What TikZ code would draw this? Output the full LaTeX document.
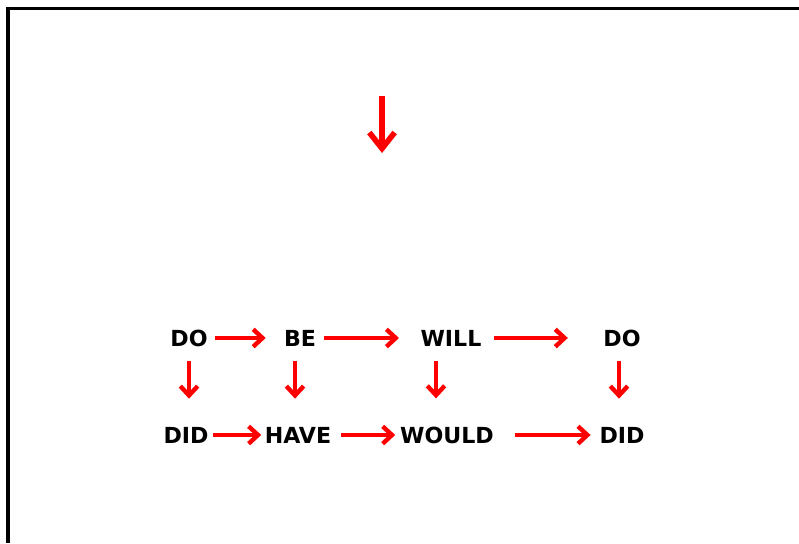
\documentclass[tikz,border=0pt]{standalone}
\usepackage{fontspec}
\setmainfont{DejaVu Sans}
\usepackage{xcolor}
\usepackage{tikz}
\usetikzlibrary{positioning,arrows.meta}

\begin{document}
\begin{tikzpicture}[x=0.75pt,y=-0.75pt,
					word/.style = {inner sep=0pt, font=\fontsize{16.6}{19}\selectfont\bfseries},
					arr/.style = {-{Straight Barb[length=7pt, width=13pt]}, line width=3.3pt, draw=red}]
					\useasboundingbox (0,0) rectangle (799,543);
					\draw[line width=2.6pt] (8,543) -- (8,8.5) -- (799,8.5);
					
					\coordinate (t0) at (382,96);
					\coordinate (t1) at (382,153);
					\draw[arr, line width=4.2pt, -{Straight Barb[length=12pt, width=19pt]}] (t0) -- (t1);
					
					\node[word] (do1) at (189, 338) {DO};
					\node[word] (be) at (300, 338) {BE};
					\node[word] (will) at (451, 338) {WILL};
					\node[word] (do2) at (622, 338) {DO};
					\node[word] (did1) at (186, 435) {DID};
					\node[word] (have) at (298, 435) {HAVE};
					\node[word] (would) at (447, 435) {WOULD};
					\node[word] (did2) at (622, 435) {DID};
					
					\draw[arr, shorten <=5.5pt, shorten >=13.5pt] (do1.east) to (be.west);
					\draw[arr, shorten <=5.5pt, shorten >=16pt] (be.east) to (will.west);
					\draw[arr, shorten <=9pt, shorten >=26.5pt] (will.east) to (do2.west);
					
					\draw[arr, shorten <=3pt, shorten >=2.5pt] (did1.east) to (have.west);
					\draw[arr, shorten <=7.5pt, shorten >=3.5pt] (have.east) to (would.west);
					\draw[arr, shorten <=15.5pt, shorten >=6.5pt] (would.east) to (did2.west);
					
					\draw[arr, shorten <=11pt, shorten >=21pt] (do1.south) to ([xshift=2.25pt]did1.north);
					\draw[arr, shorten <=11pt, shorten >=21pt] ([xshift=-3.75pt]be.south) to ([xshift=-2.25pt]have.north);
					\draw[arr, shorten <=11pt, shorten >=21pt] ([xshift=-11.25pt]will.south) to ([xshift=-8.25pt]would.north);
					\draw[arr, shorten <=11pt, shorten >=21pt] ([xshift=-2.25pt]do2.south) to ([xshift=-2.25pt]did2.north);
				\end{tikzpicture}
\end{document}
